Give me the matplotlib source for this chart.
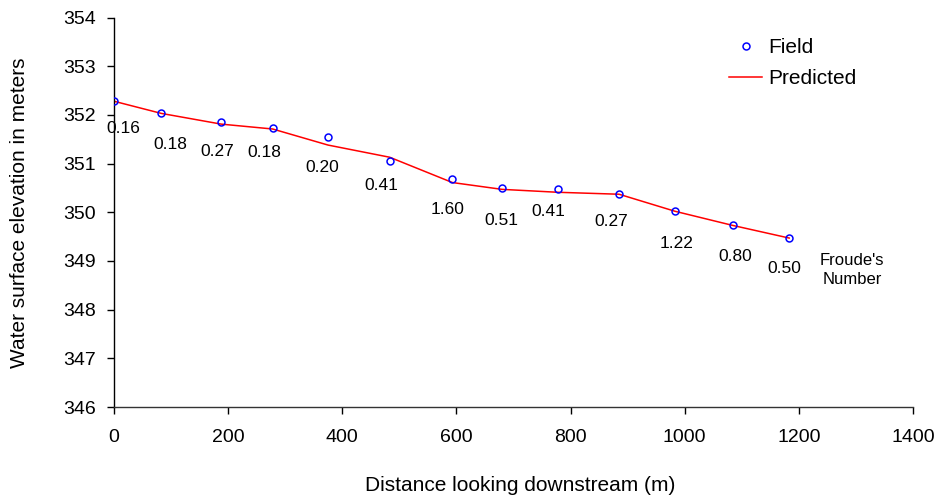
import matplotlib.pyplot as plt

plt.rcParams["font.family"] = ["Liberation Sans", "DejaVu Sans"]

# distance downstream (m) and water surface elevation (m)
distance = [0, 83, 188, 278, 375, 483, 593, 680, 778, 885, 983, 1084, 1183]
field = [352.28, 352.03, 351.86, 351.73, 351.54, 351.06, 350.69,
         350.50, 350.47, 350.37, 350.02, 349.73, 349.47]
predicted = [352.28, 352.03, 351.81, 351.71, 351.38, 351.13, 350.61,
             350.47, 350.41, 350.37, 350.02, 349.73, 349.47]
froude = ["0.16", "0.18", "0.27", "0.18", "0.20", "0.41", "1.60",
          "0.51", "0.41", "0.27", "1.22", "0.80", "0.50"]

# label offsets from each field point, in pixels (dx, dy)
label_offsets = [(9, -27), (9, -31), (-4, -30), (-8, -24), (-6, -30),
                 (-8, -25), (-5, -31), (-1, -33), (-10, -22), (-8, -27),
                 (2, -32), (3, -31), (-5, -30)]

fig = plt.figure(figsize=(9.37, 5.03), dpi=100)
ax = fig.add_axes([114 / 937, 1 - 407 / 503, (913 - 114) / 937, (407 - 17.5) / 503])

ax.plot(distance, field, linestyle="none", marker="o", markersize=5,
        markerfacecolor="none", markeredgecolor="blue", markeredgewidth=1.1,
        label="Field", zorder=3)
ax.plot(distance, predicted, color="red", linewidth=1.1, label="Predicted")

for x, y, txt, (dx, dy) in zip(distance, field, froude, label_offsets):
    ax.annotate(txt, (x, y), xytext=(dx, dy), textcoords="offset pixels",
                ha="center", va="center", fontsize=12.5)

ax.annotate("Froude's\nNumber", (distance[-1], field[-1]), xytext=(63, -32),
            textcoords="offset pixels", ha="center", va="center",
            fontsize=12, linespacing=1.3)

ax.set_xlim(0, 1400)
ax.set_ylim(346, 354)
ax.set_xticks(range(0, 1401, 200))
ax.set_yticks(range(346, 355))

for side in ("top", "right"):
    ax.spines[side].set_visible(False)
ax.spines["left"].set_linewidth(1)
ax.spines["bottom"].set_linewidth(1)
ax.spines["bottom"].set_color("#333333")
ax.tick_params(direction="out", length=5, width=1, labelsize=14)
ax.tick_params(axis="y", pad=8)
ax.tick_params(axis="x", pad=11)

ax.set_xlabel("Distance looking downstream (m)", fontsize=15)
ax.set_ylabel("Water surface elevation in meters", fontsize=15)
ax.xaxis.set_label_coords(0.508, -0.178)
ax.yaxis.set_label_coords(-0.106, 0.5)

ax.legend(loc="upper left", bbox_to_anchor=(729 / 937, 1 - 38 / 503),
          bbox_transform=fig.transFigure, frameon=False, fontsize=15,
          borderpad=0, borderaxespad=0, handlelength=1.6, handletextpad=0.3,
          labelspacing=0.6)

fig.savefig("out.png", dpi=100)
